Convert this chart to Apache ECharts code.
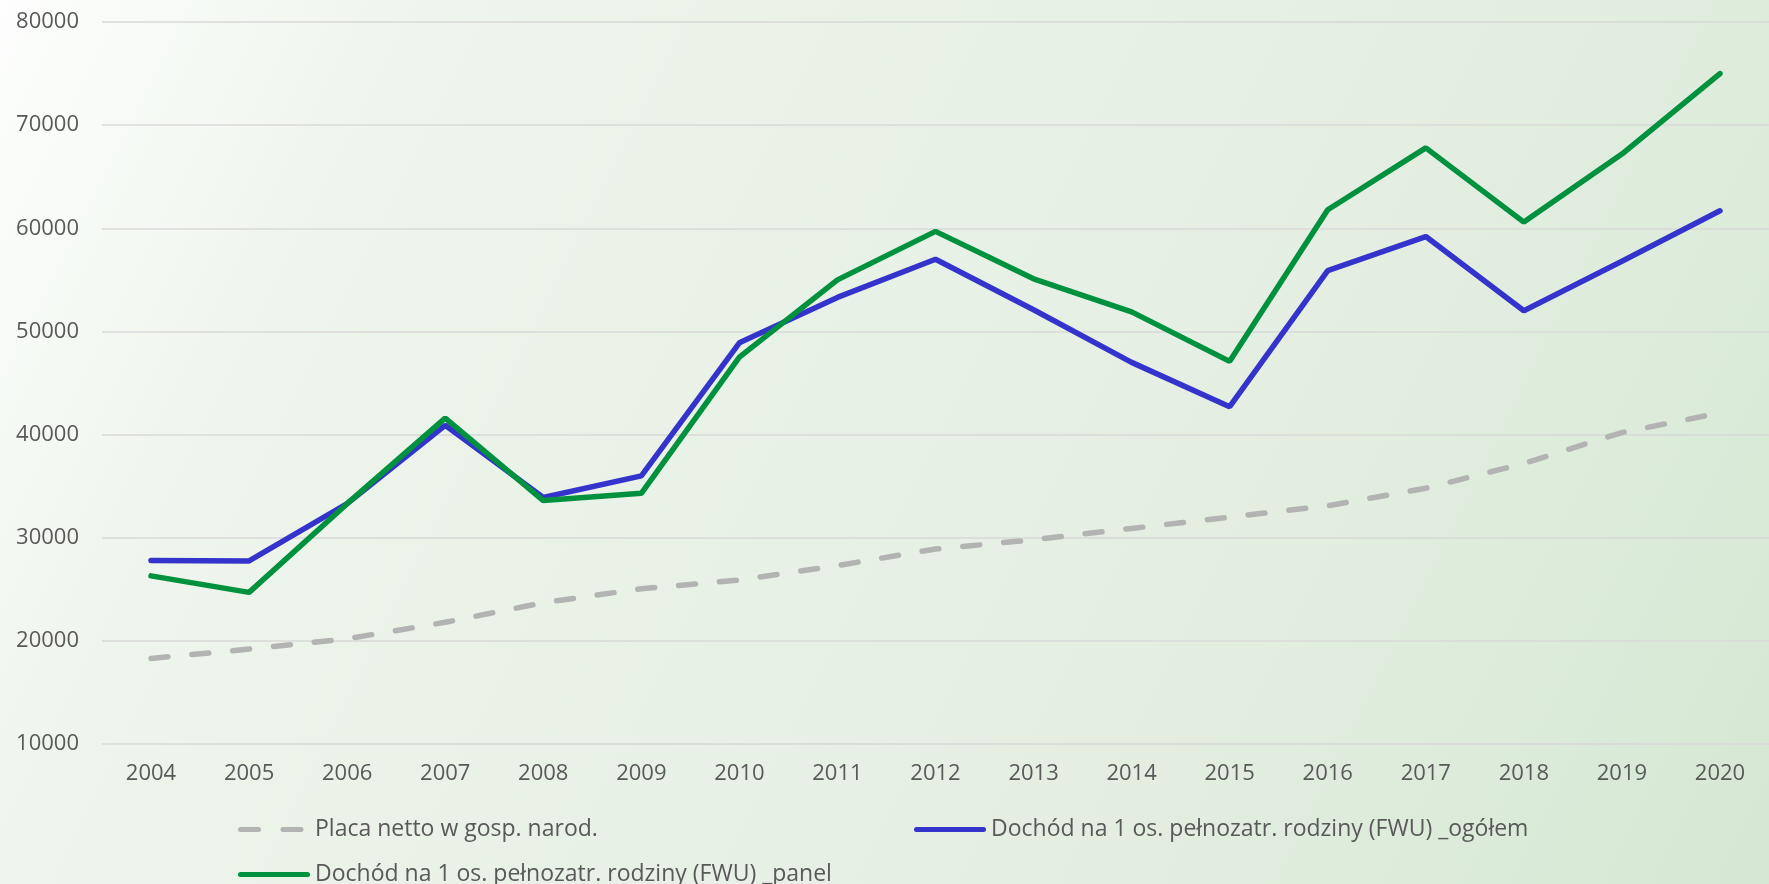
<!DOCTYPE html>
<html lang="pl">
  <head>
    <meta charset="UTF-8" />
    <title>Dochód na 1 osobę</title>
    <style>
      html, body { margin: 0; padding: 0; }
      #main { width: 1769px; height: 884px; }
    </style>
  </head>
  <body>
    <div id="main"></div>

    <script src="https://cdn.jsdelivr.net/npm/echarts@6/dist/echarts.min.js"></script>
    <script>
      const years = ['2004', '2005', '2006', '2007', '2008', '2009', '2010', '2011', '2012',
        '2013', '2014', '2015', '2016', '2017', '2018', '2019', '2020']

      const placaNetto = [18300, 19200, 20200, 21800, 23700, 25050, 25900, 27300, 28900,
        29800, 30900, 32000, 33100, 34800, 37200, 40200, 42100]
      const dochodOgolem = [27800, 27750, 33300, 40900, 33900, 36000, 48900, 53300, 57000,
        52100, 47000, 42700, 55900, 59200, 52000, 56800, 61700]
      const dochodPanel = [26300, 24700, 33300, 41600, 33600, 34300, 47500, 55000, 59700,
        55100, 51900, 47100, 61800, 67800, 60600, 67200, 75000]

      const names = [
        'Placa netto w gosp. narod.',
        'Dochód na 1 os. pełnozatr. rodziny (FWU) _ogółem',
        'Dochód na 1 os. pełnozatr. rodziny (FWU) _panel'
      ]

      const font = '"Open Sans", Lato, sans-serif'
      const textColor = '#595959'

      // ikonki legendy: linia ciągła i przerywana
      const solidIcon = 'path://M2.5,0h67a2.5,2.5 0 0 1 0,5h-67a2.5,2.5 0 0 1 0,-5z'
      const dashedIcon = 'path://M2.5,0h18a2.5,2.5 0 0 1 0,5h-18a2.5,2.5 0 0 1 0,-5z' +
        'M45,0h18a2.5,2.5 0 0 1 0,5h-18a2.5,2.5 0 0 1 0,-5z M72,0L72,5'

      let myChart = echarts.init(document.getElementById('main'))

      const legendBase = {
        itemWidth: 72,
        itemHeight: 5,
        itemGap: 5,
        textStyle: { color: textColor, fontSize: 23, fontFamily: font }
      }

      let option = {
        backgroundColor: new echarts.graphic.LinearGradient(0, 0, 1, 1, [
          { offset: 0, color: '#fdfefd' },
          { offset: 0.2, color: '#eef5ec' },
          { offset: 0.7, color: '#e3eee1' },
          { offset: 1, color: '#d5e8d3' }
        ]),
        grid: {
          left: 102,
          top: 22,
          width: 1674,
          height: 722
        },
        legend: [
          Object.assign({ data: [{ name: names[0], icon: dashedIcon }], left: 233, top: 813 }, legendBase),
          Object.assign({ data: [{ name: names[1], icon: solidIcon }], left: 909, top: 813 }, legendBase),
          Object.assign({ data: [{ name: names[2], icon: solidIcon }], left: 233, top: 858 }, legendBase)
        ],
        xAxis: {
          type: 'category',
          data: years,
          axisLine: { show: false },
          axisTick: { show: false },
          axisLabel: { color: textColor, fontSize: 22, fontFamily: font, margin: 19 }
        },
        yAxis: {
          type: 'value',
          min: 10000,
          max: 80000,
          interval: 10000,
          axisLine: { show: false },
          axisTick: { show: false },
          axisLabel: {
            color: textColor,
            fontSize: 22,
            fontFamily: font,
            margin: 23,
            formatter: (v) => String(v)
          },
          splitLine: { lineStyle: { color: '#d9d9d9', width: 1.5 } }
        },
        series: [
          {
            name: names[0],
            type: 'line',
            data: placaNetto,
            symbol: 'none',
            lineStyle: { color: '#b3b3b3', width: 5.5, type: [17, 24], cap: 'round' },
            itemStyle: { color: '#b3b3b3' }
          },
          {
            name: names[1],
            type: 'line',
            data: dochodOgolem,
            symbol: 'none',
            lineStyle: { color: '#3434cc', width: 5.5, cap: 'round' },
            itemStyle: { color: '#3434cc' }
          },
          {
            name: names[2],
            type: 'line',
            data: dochodPanel,
            symbol: 'none',
            lineStyle: { color: '#00913f', width: 5.5, cap: 'round' },
            itemStyle: { color: '#00913f' }
          }
        ]
      }

      myChart.setOption(option)
    </script>
  </body>
</html>
